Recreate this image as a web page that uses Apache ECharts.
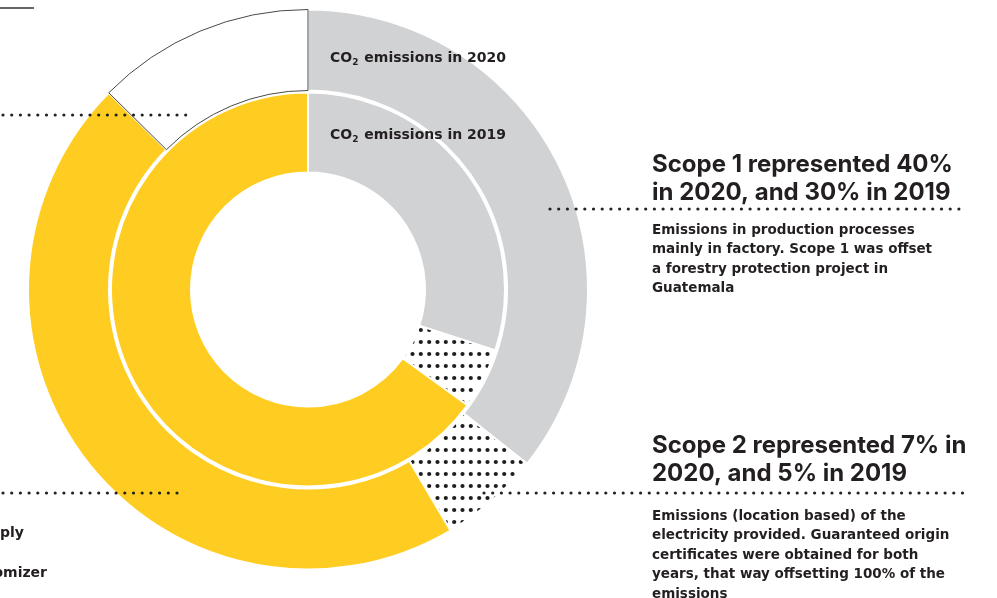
<!DOCTYPE html>
<html>
<head>
<meta charset="utf-8">
<script src="https://cdn.jsdelivr.net/npm/echarts@6/dist/echarts.min.js"></script>
<style>
  html, body { margin: 0; padding: 0; background: #fff; }
  #chart { width: 997px; height: 598px; }
</style>
</head>
<body>
<div id="chart"></div>
<script>
// scope shares (clockwise from 12 o'clock)
const scopeNames = ['Scope 1', 'Scope 2', 'Scope 3', 'Other']
const share2020 = [35.7, 5.8, 45.9, 12.6]
const share2019 = [30, 5, 65]
const ringLabels = ['2020', '2019']

const scope1Title = ['Scope 1 represented 40%', 'in 2020, and 30% in 2019']
const scope1Text = ['Emissions in production processes', 'mainly in factory. Scope 1 was offset', 'a forestry protection project in', 'Guatemala']
const scope2Title = ['Scope 2 represented 7% in', '2020, and 5% in 2019']
const scope2Text = ['Emissions (location based) of the', 'electricity provided. Guaranteed origin', 'certificates were obtained for both', 'years, that way offsetting 100% of the', 'emissions']
const leftLabels = ['Supply', 'Customizer']

const YELLOW = '#FFCD21'
const GREY = '#D1D2D4'
const INK = '#231F20'
const HEAD_FONT = 'Inter, "Noto Sans", sans-serif'
const BODY_FONT = '"DejaVu Sans", sans-serif'

// dotted fill for scope 2
const tile = document.createElement('canvas')
tile.width = 25
tile.height = 12
const tctx = tile.getContext('2d')
tctx.fillStyle = '#fff'
tctx.fillRect(0, 0, 25, 12)
tctx.fillStyle = '#1e1e1e'
;[4.2, 12.5, 20.8].forEach(x => {
  tctx.beginPath()
  tctx.arc(x, 6, 2.1, 0, Math.PI * 2)
  tctx.fill()
})
const dots = { image: tile, repeat: 'repeat' }

const fills = [GREY, dots, YELLOW, '#fff']

function ringData (values) {
  return values.map((v, i) => ({
    name: scopeNames[i],
    value: v,
    itemStyle: i === 3
      ? { color: '#fff', borderColor: '#4a4a4a', borderWidth: 1 }
      : { color: fills[i], borderColor: '#fff', borderWidth: 2 }
  }))
}

function dotted (x1, x2, y) {
  return {
    type: 'line',
    z: 100,
    shape: { x1: x1, y1: y, x2: x2, y2: y },
    style: { stroke: '#222', lineWidth: 3.2, lineDash: [0, 8.7], lineCap: 'round' }
  }
}

function lines (arr, x, y0, step, font) {
  return arr.map((t, i) => ({
    type: 'text',
    z: 100,
    x: x,
    y: y0 + i * step,
    style: {
      text: t,
      fill: INK,
      font: font,
      textVerticalAlign: 'bottom'
    }
  }))
}

function co2Label (year, y) {
  return {
    type: 'text',
    z: 100,
    x: 330,
    y: y,
    style: {
      text: 'CO{sub|2} emissions in ' + year,
      fill: INK,
      font: '700 14px ' + BODY_FONT,
      textVerticalAlign: 'middle',
      rich: {
        sub: { font: '700 9px ' + BODY_FONT, fill: INK, padding: [9, 1, 0, 0] }
      }
    }
  }
}

const headFont = '700 24px ' + HEAD_FONT
const bodyFont = '700 13.5px ' + BODY_FONT

const chart = echarts.init(document.getElementById('chart'))

const graphics = [
  { type: 'line', shape: { x1: 0, y1: 8, x2: 34, y2: 8 }, style: { stroke: '#333', lineWidth: 1.5 } },
  dotted(3, 193, 115),
  dotted(3, 182, 493),
  dotted(550, 965, 209),
  dotted(484, 965, 493),
  co2Label(ringLabels[0], 58),
  co2Label(ringLabels[1], 135),
  { type: 'text', z: 100, x: 24, y: 533, style: { text: leftLabels[0], fill: INK, font: '700 14px ' + BODY_FONT, textAlign: 'right', textVerticalAlign: 'middle' } },
  { type: 'text', z: 100, x: 47, y: 573, style: { text: leftLabels[1], fill: INK, font: '700 14px ' + BODY_FONT, textAlign: 'right', textVerticalAlign: 'middle' } }
]
  .concat(lines(scope1Title, 652, 177, 28, headFont))
  .concat(lines(scope1Text, 652, 237, 19.5, bodyFont))
  .concat(lines(scope2Title, 652, 458, 28, headFont))
  .concat(lines(scope2Text, 652, 523, 19.5, bodyFont))

chart.setOption({
  animation: false,
  backgroundColor: '#fff',
  series: [
    {
      name: ringLabels[1],
      type: 'pie',
      center: [308, 289.5],
      radius: [117, 197],
      startAngle: 90,
      clockwise: true,
      silent: true,
      label: { show: false },
      labelLine: { show: false },
      data: ringData(share2019)
    },
    {
      name: ringLabels[0],
      type: 'pie',
      center: [308, 289.5],
      radius: [199, 280],
      startAngle: 90,
      clockwise: true,
      silent: true,
      label: { show: false },
      labelLine: { show: false },
      data: ringData(share2020)
    }
  ],
  graphic: graphics
})
</script>
</body>
</html>
